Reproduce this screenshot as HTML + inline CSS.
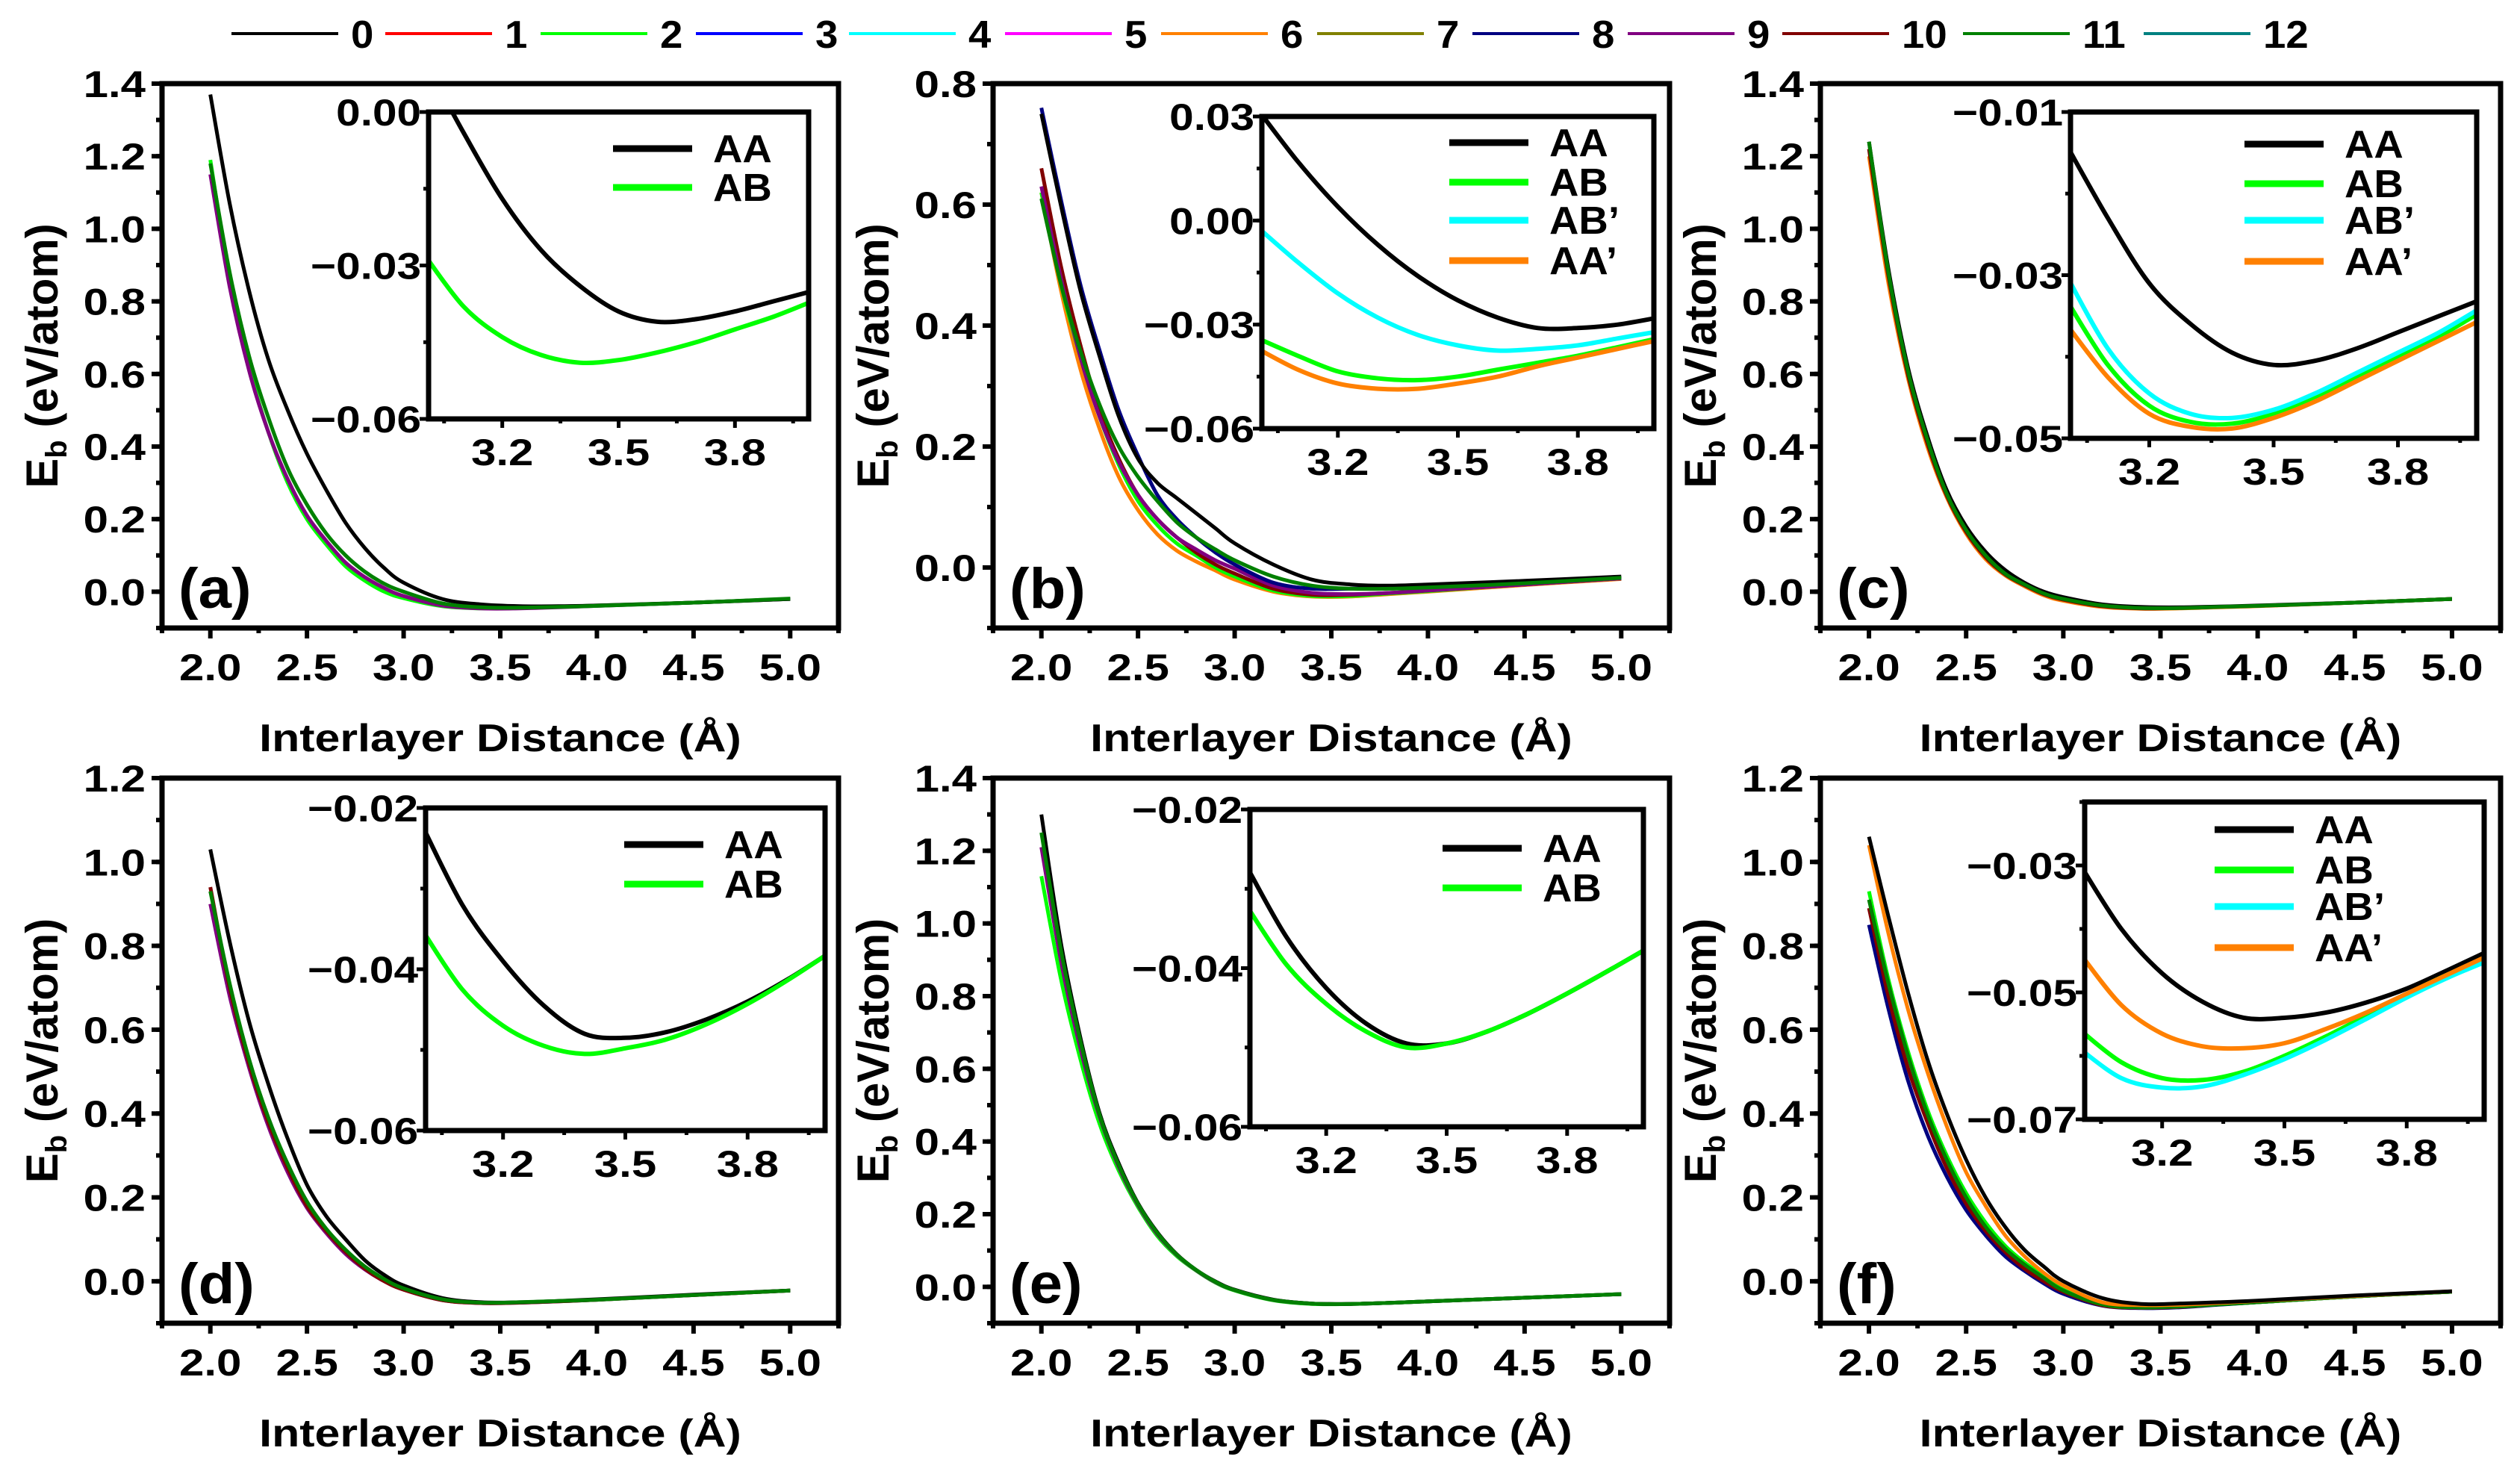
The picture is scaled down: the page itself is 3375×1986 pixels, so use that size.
<!DOCTYPE html>
<html><head><meta charset="utf-8"><style>
html,body{margin:0;padding:0;background:#fff;}
svg{display:block;font-family:"Liberation Sans",Arial,sans-serif;font-weight:bold;}
</style></head>
<body>
<svg id="fig" width="3375" height="1986" viewBox="0 0 3375 1986" xmlns="http://www.w3.org/2000/svg"></svg>
<script>
// ---------- data ----------
const XS = [2.0,2.1,2.2,2.3,2.4,2.5,2.6,2.7,2.8,2.9,3.0,3.2,3.4,3.6,3.8,4.0,4.5,5.0];
const IX = [3.0,3.1,3.2,3.3,3.4,3.5,3.6,3.7,3.8,3.9,4.0];
const legendLabels = ["0","1","2","3","4","5","6","7","8","9","10","11","12"];
const legendColors = ["#000000","#ff0000","#00ff00","#0000ff","#00ffff","#ff00ff","#ff8000","#808000","#000080","#800080","#800000","#008000","#008080"];

// panel a
const aS2  = [1.19,0.86,0.62,0.44,0.30,0.20,0.13,0.07,0.03,0.0,-0.018,-0.04,-0.046,-0.045,-0.042,-0.038,-0.03,-0.02];
const aS9  = [1.15,0.84,0.61,0.44,0.31,0.21,0.14,0.08,0.04,0.01,-0.012,-0.038,-0.046,-0.046,-0.043,-0.039,-0.03,-0.02];
const aS0  = [1.37,1.07,0.83,0.64,0.50,0.38,0.28,0.19,0.12,0.065,0.025,-0.02,-0.035,-0.04,-0.04,-0.038,-0.03,-0.02];
const aS11 = [1.18,0.88,0.65,0.48,0.34,0.24,0.16,0.10,0.055,0.022,0.0,-0.032,-0.043,-0.044,-0.042,-0.039,-0.03,-0.019];
const aInAA = [0.010,-0.004,-0.017,-0.027,-0.034,-0.039,-0.041,-0.0405,-0.039,-0.037,-0.035];
const aInAB = [-0.028,-0.038,-0.044,-0.0475,-0.049,-0.0485,-0.047,-0.045,-0.0425,-0.040,-0.037];
// panel b
const bS6  = [0.62,0.46,0.33,0.23,0.15,0.095,0.055,0.028,0.01,-0.005,-0.02,-0.04,-0.048,-0.048,-0.044,-0.04,-0.029,-0.019];
const bS2  = [0.62,0.47,0.35,0.25,0.17,0.11,0.07,0.04,0.02,0.0,-0.015,-0.038,-0.047,-0.047,-0.043,-0.039,-0.028,-0.018];
const bS10 = [0.66,0.50,0.37,0.26,0.18,0.12,0.08,0.05,0.025,0.005,-0.01,-0.035,-0.045,-0.045,-0.042,-0.038,-0.028,-0.018];
const bS9  = [0.63,0.48,0.35,0.25,0.175,0.12,0.08,0.05,0.03,0.012,-0.002,-0.03,-0.042,-0.044,-0.042,-0.038,-0.028,-0.018];
const bS8  = [0.76,0.61,0.47,0.36,0.26,0.185,0.12,0.08,0.05,0.025,0.005,-0.025,-0.035,-0.035,-0.034,-0.032,-0.025,-0.017];
const bS0  = [0.75,0.60,0.46,0.35,0.25,0.18,0.14,0.115,0.09,0.065,0.04,0.005,-0.02,-0.028,-0.03,-0.028,-0.022,-0.015];
const bS11 = [0.61,0.47,0.36,0.27,0.20,0.15,0.11,0.075,0.05,0.03,0.012,-0.015,-0.03,-0.035,-0.035,-0.033,-0.026,-0.017];
const bInAA = [0.032,0.017,0.004,-0.007,-0.016,-0.023,-0.028,-0.031,-0.031,-0.030,-0.028];
const bInAB = [-0.034,-0.039,-0.0435,-0.0455,-0.046,-0.045,-0.043,-0.041,-0.039,-0.0365,-0.034];
const bInABp = [-0.002,-0.012,-0.021,-0.028,-0.033,-0.036,-0.0375,-0.037,-0.036,-0.034,-0.032];
const bInAAp = [-0.037,-0.043,-0.047,-0.0485,-0.0485,-0.047,-0.045,-0.042,-0.0395,-0.037,-0.0345];
// panel c
const cS6  = [1.20,0.85,0.59,0.40,0.26,0.16,0.09,0.045,0.015,-0.01,-0.025,-0.042,-0.047,-0.046,-0.043,-0.04,-0.03,-0.02];
const cS10 = [1.22,0.87,0.60,0.41,0.265,0.165,0.095,0.048,0.018,-0.007,-0.022,-0.04,-0.046,-0.045,-0.042,-0.039,-0.03,-0.02];
const cS0  = [1.24,0.89,0.62,0.43,0.28,0.18,0.11,0.06,0.025,0.0,-0.015,-0.035,-0.042,-0.043,-0.041,-0.038,-0.03,-0.02];
const cS11 = [1.24,0.88,0.61,0.42,0.27,0.17,0.10,0.05,0.02,-0.005,-0.02,-0.038,-0.045,-0.045,-0.042,-0.039,-0.03,-0.02];
const cInAA = [-0.014,-0.023,-0.031,-0.036,-0.0395,-0.041,-0.0405,-0.039,-0.037,-0.035,-0.033];
const cInAB = [-0.033,-0.041,-0.046,-0.048,-0.0482,-0.047,-0.045,-0.0425,-0.040,-0.0375,-0.0345];
const cInABp = [-0.030,-0.039,-0.0445,-0.047,-0.0475,-0.0465,-0.0445,-0.042,-0.0395,-0.037,-0.034];
const cInAAp = [-0.036,-0.0425,-0.047,-0.0486,-0.0488,-0.0475,-0.0455,-0.043,-0.0405,-0.038,-0.0355];
// panel d
const dS9  = [0.90,0.68,0.51,0.37,0.26,0.175,0.115,0.065,0.028,0.0,-0.02,-0.045,-0.052,-0.051,-0.048,-0.044,-0.033,-0.022];
const dS10 = [0.94,0.70,0.52,0.38,0.27,0.18,0.12,0.07,0.03,0.0,-0.02,-0.045,-0.052,-0.051,-0.048,-0.044,-0.033,-0.022];
const dS0  = [1.03,0.81,0.62,0.47,0.34,0.23,0.155,0.10,0.05,0.015,-0.01,-0.04,-0.05,-0.05,-0.047,-0.043,-0.032,-0.022];
const dS11 = [0.93,0.71,0.53,0.39,0.28,0.19,0.125,0.075,0.035,0.005,-0.017,-0.043,-0.051,-0.05,-0.047,-0.044,-0.033,-0.022];
const dInAA = [-0.022,-0.032,-0.039,-0.0445,-0.048,-0.0485,-0.0478,-0.0462,-0.0440,-0.0412,-0.038];
const dInAB = [-0.035,-0.0425,-0.047,-0.0495,-0.0505,-0.0498,-0.0487,-0.0468,-0.0443,-0.0413,-0.038];
// panel e
const eS2  = [1.13,0.85,0.63,0.45,0.32,0.22,0.14,0.085,0.045,0.012,-0.01,-0.037,-0.047,-0.047,-0.044,-0.04,-0.03,-0.02];
const eS9  = [1.21,0.90,0.66,0.47,0.33,0.225,0.145,0.088,0.046,0.013,-0.009,-0.036,-0.046,-0.047,-0.044,-0.04,-0.03,-0.02];
const eS0  = [1.30,0.95,0.69,0.48,0.34,0.23,0.15,0.09,0.047,0.015,-0.008,-0.035,-0.046,-0.047,-0.044,-0.04,-0.03,-0.02];
const eS11 = [1.25,0.93,0.68,0.475,0.335,0.228,0.148,0.089,0.047,0.014,-0.009,-0.036,-0.046,-0.047,-0.044,-0.04,-0.03,-0.02];
const eInAA = [-0.027,-0.036,-0.0425,-0.047,-0.0495,-0.0495,-0.048,-0.0458,-0.0432,-0.0404,-0.0375];
const eInAB = [-0.032,-0.0395,-0.0445,-0.048,-0.050,-0.0495,-0.048,-0.0458,-0.0432,-0.0404,-0.0375];
// panel f
const fS8  = [0.85,0.65,0.48,0.35,0.25,0.17,0.11,0.06,0.025,-0.005,-0.03,-0.058,-0.064,-0.062,-0.056,-0.05,-0.036,-0.025];
const fS10 = [0.89,0.68,0.51,0.38,0.27,0.185,0.12,0.07,0.03,0.0,-0.025,-0.057,-0.063,-0.061,-0.055,-0.05,-0.036,-0.025];
const fS2  = [0.93,0.72,0.55,0.41,0.30,0.21,0.14,0.085,0.045,0.012,-0.02,-0.055,-0.062,-0.06,-0.055,-0.05,-0.036,-0.025];
const fS6  = [1.04,0.83,0.65,0.50,0.37,0.26,0.18,0.11,0.06,0.02,-0.01,-0.05,-0.057,-0.056,-0.052,-0.047,-0.035,-0.024];
const fS0  = [1.06,0.87,0.69,0.53,0.40,0.29,0.20,0.13,0.075,0.035,0.0,-0.04,-0.054,-0.053,-0.05,-0.046,-0.034,-0.024];
const fS11 = [0.91,0.71,0.54,0.40,0.29,0.20,0.13,0.078,0.04,0.008,-0.022,-0.055,-0.062,-0.06,-0.055,-0.05,-0.036,-0.025];
const fInAA = [-0.030,-0.040,-0.047,-0.0515,-0.054,-0.054,-0.0532,-0.0516,-0.0494,-0.0465,-0.0435];
const fInAAp = [-0.044,-0.052,-0.0565,-0.0585,-0.0588,-0.058,-0.0558,-0.0532,-0.0502,-0.0472,-0.0442];
const fInAB = [-0.056,-0.061,-0.0635,-0.0638,-0.0625,-0.060,-0.057,-0.0537,-0.0503,-0.0472,-0.0445];
const fInABp = [-0.059,-0.0635,-0.065,-0.0648,-0.063,-0.0605,-0.0575,-0.0542,-0.0508,-0.0477,-0.045];

// ---------- layout (not data) ----------
const C = {k:"#000000",g:"#00ff00",c:"#00ffff",o:"#ff8000",n:"#000080",p:"#800080",r:"#800000",dg:"#008000"};
const panels = [
 {id:"a",L:217,R:1123,T:112,B:841,ymin:-0.1,ymax:1.4,ticks:[0,0.2,0.4,0.6,0.8,1.0,1.2,1.4],
  series:[[aS2,C.g],[aS9,C.p],[aS0,C.k],[aS11,C.dg]],
  inset:{L:574,T:150,R:1083,B:561,ymin:-0.06,ymax:0.0,ticks:[0,-0.03,-0.06],
   series:[[aInAA,C.k,"AA"],[aInAB,C.g,"AB"]],lx:821,ly:[199,251]}},
 {id:"b",L:1330,R:2236,T:112,B:841,ymin:-0.1,ymax:0.8,ticks:[0,0.2,0.4,0.6,0.8],
  series:[[bS6,C.o],[bS2,C.g],[bS10,C.r],[bS9,C.p],[bS8,C.n],[bS0,C.k],[bS11,C.dg]],
  inset:{L:1690,T:156,R:2215,B:574,ymin:-0.06,ymax:0.03,ticks:[0.03,0,-0.03,-0.06],
   series:[[bInAA,C.k,"AA"],[bInAB,C.g,"AB"],[bInABp,C.c,"AB\u2019"],[bInAAp,C.o,"AA\u2019"]],lx:1941,ly:[191,244,295,349]}},
 {id:"c",L:2438,R:3349,T:112,B:841,ymin:-0.1,ymax:1.4,ticks:[0,0.2,0.4,0.6,0.8,1.0,1.2,1.4],
  series:[[cS6,C.o],[cS10,C.r],[cS0,C.k],[cS11,C.dg]],
  inset:{L:2773,T:150,R:3317,B:587,ymin:-0.05,ymax:-0.01,ticks:[-0.01,-0.03,-0.05],
   series:[[cInAA,C.k,"AA"],[cInAB,C.g,"AB"],[cInABp,C.c,"AB\u2019"],[cInAAp,C.o,"AA\u2019"]],lx:3006,ly:[193,246,295,350]}},
 {id:"d",L:217,R:1123,T:1042,B:1772,ymin:-0.1,ymax:1.2,ticks:[0,0.2,0.4,0.6,0.8,1.0,1.2],
  series:[[dS9,C.p],[dS10,C.r],[dS0,C.k],[dS11,C.dg]],
  inset:{L:570,T:1082,R:1105,B:1514,ymin:-0.06,ymax:-0.02,ticks:[-0.02,-0.04,-0.06],
   series:[[dInAA,C.k,"AA"],[dInAB,C.g,"AB"]],lx:836,ly:[1131,1184]}},
 {id:"e",L:1330,R:2236,T:1042,B:1772,ymin:-0.1,ymax:1.4,ticks:[0,0.2,0.4,0.6,0.8,1.0,1.2,1.4],
  series:[[eS2,C.g],[eS9,C.p],[eS0,C.k],[eS11,C.dg]],
  inset:{L:1674,T:1084,R:2201,B:1509,ymin:-0.06,ymax:-0.02,ticks:[-0.02,-0.04,-0.06],
   series:[[eInAA,C.k,"AA"],[eInAB,C.g,"AB"]],lx:1932,ly:[1136,1189]}},
 {id:"f",L:2438,R:3349,T:1042,B:1772,ymin:-0.1,ymax:1.2,ticks:[0,0.2,0.4,0.6,0.8,1.0,1.2],
  series:[[fS8,C.n],[fS10,C.r],[fS2,C.g],[fS11,C.dg],[fS6,C.o],[fS0,C.k]],
  inset:{L:2792,T:1074,R:3327,B:1499,ymin:-0.07,ymax:-0.02,ticks:[-0.03,-0.05,-0.07],
   series:[[fInAA,C.k,"AA"],[fInAB,C.g,"AB"],[fInABp,C.c,"AB\u2019"],[fInAAp,C.o,"AA\u2019"]],lx:2966,ly:[1111,1165,1214,1269]}}
];
const legendX = [310,516,724,932,1137,1346,1555,1764,1972,2180,2387,2629,2871];

// ---------- drawing ----------
const NS = "http://www.w3.org/2000/svg";
const svg = document.getElementById("fig");
function mk(tag, attrs, parent){
  const e = document.createElementNS(NS, tag);
  for (const k in attrs) e.setAttribute(k, attrs[k]);
  (parent||svg).appendChild(e);
  return e;
}
function txt(parent, x, y, s, fs, anchor, sx){
  const t = mk("text",{transform:`translate(${x},${y}) scale(${sx||1.2},1)`,"font-size":fs,"text-anchor":anchor||"middle",fill:"#000"},parent);
  t.textContent = s;
  return t;
}
function smoothPath(pts){
  let d = `M${pts[0][0].toFixed(1)},${pts[0][1].toFixed(1)}`;
  for (let i=0;i<pts.length-1;i++){
    const p0=pts[Math.max(i-1,0)], p1=pts[i], p2=pts[i+1], p3=pts[Math.min(i+2,pts.length-1)];
    const c1=[p1[0]+(p2[0]-p0[0])/6, p1[1]+(p2[1]-p0[1])/6];
    const c2=[p2[0]-(p3[0]-p1[0])/6, p2[1]-(p3[1]-p1[1])/6];
    d += ` C${c1[0].toFixed(1)},${c1[1].toFixed(1)} ${c2[0].toFixed(1)},${c2[1].toFixed(1)} ${p2[0].toFixed(1)},${p2[1].toFixed(1)}`;
  }
  return d;
}
function fmt(v,dp){ const s=Math.abs(v).toFixed(dp); return (v<-1e-9?"\u2212":"")+s; }

// top legend
const lg = mk("g",{});


legendLabels.forEach((lab,i)=>{
  const g = mk("g",{},lg);
  
  
  const x = legendX[i];
  mk("line",{x1:x,y1:45,x2:x+143,y2:45,stroke:legendColors[i],"stroke-width":4},g);
  txt(g, x+160, 64, lab, 52, "start", 1.05);
});

panels.forEach(P=>{
  const g = mk("g",{});
  
  
  const xs = v => P.L + (v-1.75)/(3.5)*(P.R-P.L);
  const ys = v => P.B - (v-P.ymin)/(P.ymax-P.ymin)*(P.B-P.T);
  const clipId = "clip"+P.id;
  const cp = mk("clipPath",{id:clipId},g);
  mk("rect",{x:P.L,y:P.T,width:P.R-P.L,height:P.B-P.T},cp);
  const cg = mk("g",{"clip-path":`url(#${clipId})`},g);
  
  
  P.series.forEach(([vals,col],si)=>{
    const pts = XS.map((x,i)=>[xs(x),ys(vals[i])]);
    const p = mk("path",{d:smoothPath(pts),fill:"none",stroke:col,"stroke-width":5,"stroke-linejoin":"round"},cg);
    
    
  });
  const fr = mk("rect",{x:P.L,y:P.T,width:P.R-P.L,height:P.B-P.T,fill:"none",stroke:"#000","stroke-width":7},g);
  
  
  const xt = mk("g",{},g);
  
  
  for (let v=1.75; v<=5.251; v+=0.25){
    const major = Math.abs(v*2-Math.round(v*2))<1e-6 && v>=1.99;
    mk("line",{x1:xs(v),y1:P.B,x2:xs(v),y2:P.B+(major?14:7),stroke:"#000","stroke-width":6},xt);
    if (major && v<=5.01) txt(xt, xs(v), P.B+70, v.toFixed(1), 50, "middle", 1.2);
  }
  const yt = mk("g",{},g);
  
  
  for (let v=P.ymin; v<=P.ymax+1e-6; v+=0.1){
    const yy = ys(v);
    mk("line",{x1:P.L,y1:yy,x2:P.L-8,y2:yy,stroke:"#000","stroke-width":6},yt);
  }
  P.ticks.forEach(v=>{
    const yy = ys(v);
    mk("line",{x1:P.L,y1:yy,x2:P.L-14,y2:yy,stroke:"#000","stroke-width":6},yt);
    txt(yt, P.L-22, yy+18, v.toFixed(1), 50, "end", 1.2);
  });
  const xtitle = txt(g, (P.L+P.R)/2, P.B+165, "Interlayer Distance (\u00c5)", 52, "middle", 1.17);
  
  
  const cy = (P.T+P.B)/2, cx = P.L-140;
  const yti = mk("text",{transform:`translate(${cx},${cy}) rotate(-90)`,"font-size":60,"text-anchor":"middle",fill:"#000"},g);
  
  
  yti.innerHTML = 'E<tspan font-size="40" dy="12">b</tspan><tspan dy="-12"> (eV/atom)</tspan>';
  const pl = txt(g, P.L+22, P.B-27, "("+P.id+")", 76, "start", 1.05);
  
  

  const I = P.inset;
  const ig = mk("g",{},g);
  
  
  const ixs = v => I.L + (v-3.01)/(0.98)*(I.R-I.L);
  const iys = v => I.B - (v-I.ymin)/(I.ymax-I.ymin)*(I.B-I.T);
  mk("rect",{x:I.L,y:I.T,width:I.R-I.L,height:I.B-I.T,fill:"#fff"},ig);
  const icp = mk("clipPath",{id:"iclip"+P.id},ig);
  mk("rect",{x:I.L,y:I.T,width:I.R-I.L,height:I.B-I.T},icp);
  const icg = mk("g",{"clip-path":`url(#iclip${P.id})`},ig);
  I.series.forEach(([vals,col,name])=>{
    const pts = IX.map((x,i)=>[ixs(x),iys(vals[i])]);
    const p = mk("path",{d:smoothPath(pts),fill:"none",stroke:col,"stroke-width":6},icg);
    
    
  });
  I.series.forEach(([vals,col,name],k)=>{
    const le = mk("g",{},ig);
    
    
    mk("line",{x1:I.lx,y1:I.ly[k],x2:I.lx+106,y2:I.ly[k],stroke:col,"stroke-width":9},le);
    txt(le, I.lx+134, I.ly[k]+18, name, 52, "start", 1.05);
  });
  mk("rect",{x:I.L,y:I.T,width:I.R-I.L,height:I.B-I.T,fill:"none",stroke:"#000","stroke-width":7},ig);
  [3.05,3.2,3.35,3.5,3.65,3.8,3.95].forEach(v=>{
    const major = [3.2,3.5,3.8].some(m=>Math.abs(m-v)<1e-6);
    mk("line",{x1:ixs(v),y1:I.B,x2:ixs(v),y2:I.B+(major?12:6),stroke:"#000","stroke-width":5},ig);
    if (major) txt(ig, ixs(v), I.B+62, v.toFixed(1), 50, "middle", 1.2);
  });
  const step = (I.ticks[0]-I.ticks[1])/2;
  for (let v=I.ymin; v<=I.ymax+1e-9; v+=step){
    mk("line",{x1:I.L,y1:iys(v),x2:I.L-7,y2:iys(v),stroke:"#000","stroke-width":5},ig);
  }
  I.ticks.forEach(v=>{
    mk("line",{x1:I.L,y1:iys(v),x2:I.L-12,y2:iys(v),stroke:"#000","stroke-width":5},ig);
    txt(ig, I.L-10, iys(v)+18, fmt(v,2), 50, "end", 1.17);
  });
});
</script>
</body></html>
